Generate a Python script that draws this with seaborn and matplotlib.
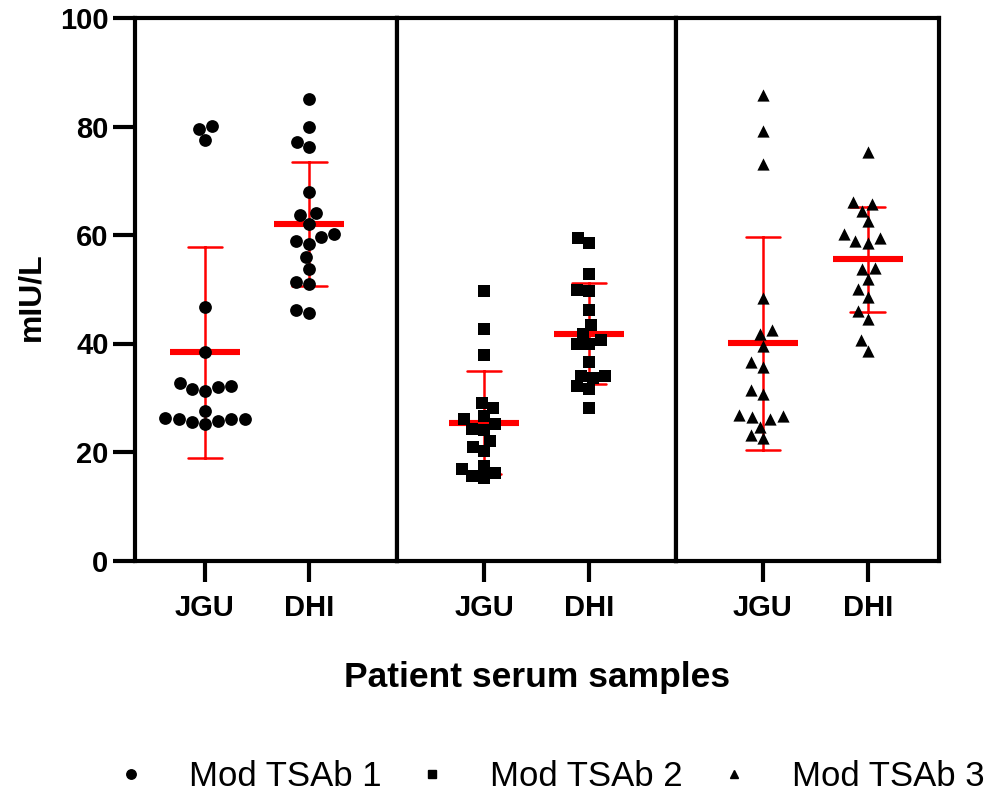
import numpy as np
import pandas as pd
import matplotlib
matplotlib.use("Agg")
import matplotlib.pyplot as plt
from matplotlib.lines import Line2D
import seaborn as sns

# Measured values (mIU/L) for each assay variant and serum source
sites = ["JGU", "DHI"]
assays = ["Mod TSAb 1", "Mod TSAb 2", "Mod TSAb 3"]
markers = ["o", "s", "^"]

jgu_1 = [79.6, 80.1, 77.5, 46.7, 38.4, 31.7, 32.8, 32.0, 32.2, 31.2, 27.5, 25.8, 26.3, 26.0, 26.1, 25.1, 26.0, 25.5]
dhi_1 = [85.0, 79.9, 76.2, 77.1, 68.0, 64.0, 63.7, 62.0, 60.1, 58.9, 59.7, 58.4, 56.0, 53.7, 50.9, 51.3, 45.7, 46.1]
jgu_2 = [49.6, 42.7, 37.9, 28.1, 29.0, 26.0, 26.6, 24.3, 24.1, 25.1, 22.0, 20.1, 20.9, 17.4, 15.2, 16.8, 15.5, 16.1]
dhi_2 = [58.5, 59.5, 52.8, 49.6, 49.9, 46.1, 43.4, 41.8, 39.9, 40.6, 39.9, 36.5, 34.1, 33.7, 34.1, 32.1, 31.7, 28.2]
jgu_3 = [85.8, 79.2, 73.1, 48.3, 41.7, 42.4, 39.5, 35.6, 36.5, 30.6, 31.4, 26.9, 24.7, 26.6, 26.1, 26.4, 22.5, 23.2]
dhi_3 = [75.3, 66.1, 65.8, 64.5, 62.5, 60.1, 58.6, 58.9, 59.4, 54.0, 53.8, 51.8, 50.0, 48.5, 45.9, 44.5, 40.6, 38.7]

y_ticks = [0, 20, 40, 60, 80, 100]

panels = [(jgu_1, dhi_1), (jgu_2, dhi_2), (jgu_3, dhi_3)]

sns.set_style("ticks")
plt.rcParams["font.family"] = ["Liberation Sans", "DejaVu Sans"]
plt.rcParams.update({
    "text.color": "black",
    "axes.labelcolor": "black",
    "xtick.color": "black",
    "ytick.color": "black",
    "axes.edgecolor": "black",
})

W, H = 989, 798
fig = plt.figure(figsize=(W / 100, H / 100), dpi=100)
gs = fig.add_gridspec(
    1, 3, width_ratios=[262, 279, 263], wspace=0,
    left=135 / W, right=939 / W, bottom=1 - 560.5 / H, top=1 - 18 / H,
)
xlims = [(-0.67, 1.84), (-0.83, 1.83), (-0.83, 1.68)]
marker_sizes = [9.2, 8.4, 8.8]

axes = []
for i, (jgu, dhi) in enumerate(panels):
    ax = fig.add_subplot(gs[0, i], sharey=axes[0] if axes else None)
    axes.append(ax)
    df = pd.DataFrame({
        "site": ["JGU"] * len(jgu) + ["DHI"] * len(dhi),
        "value": jgu + dhi,
    })
    ax.set_ylim(0, 100)
    ax.set_xlim(*xlims[i])

    # mean line with +/- SD whiskers
    sns.pointplot(
        data=df, x="site", y="value", order=sites, ax=ax,
        errorbar="sd", capsize=0.33, color="#ff0000",
        linestyle="none", marker="_", markersize=50, markeredgewidth=4.4,
        err_kws={"linewidth": 1.8}, zorder=2,
    )
    # individual samples
    sns.swarmplot(
        data=df, x="site", y="value", order=sites, ax=ax,
        marker=markers[i], color="black", size=marker_sizes[i],
        linewidth=0, zorder=3, warn_thresh=1,
    )
    ax.set_xlim(*xlims[i])
    ax.set_ylim(0, 100)
    ax.set_xlabel("")
    ax.set_ylabel("")
    for s in ax.spines.values():
        s.set_visible(True)
        s.set_linewidth(3)
        s.set_color("black")
    ax.tick_params(axis="x", length=15, width=3, pad=9, labelsize=21)
    for lab in ax.get_xticklabels():
        lab.set_fontweight("bold")
    if i == 0:
        ax.set_yticks(y_ticks)
        ax.tick_params(axis="y", length=16, width=3, pad=3, labelsize=21)
        for lab in ax.get_yticklabels():
            lab.set_fontweight("bold")
    else:
        ax.tick_params(axis="y", left=False, labelleft=False)

fig.text(537 / W, 1 - 677 / H, "Patient serum samples", ha="center", va="center",
         fontsize=25.5, fontweight="bold")
fig.text(31 / W, 1 - 297 / H, "mIU/L", ha="center", va="center", rotation=90,
         fontsize=23, fontweight="bold")

handles = [
    Line2D([], [], linestyle="none", marker=m, color="black", markersize=ms)
    for m, ms in zip(markers, [6.8, 5.4, 6.2])
]
fig.legend(handles, assays, loc="center", bbox_to_anchor=(549 / W, 1 - 777 / H),
           ncol=3, frameon=False, fontsize=25, handlelength=1.0,
           handletextpad=1.17, columnspacing=0.97)

fig.savefig("out.png", dpi=100)
